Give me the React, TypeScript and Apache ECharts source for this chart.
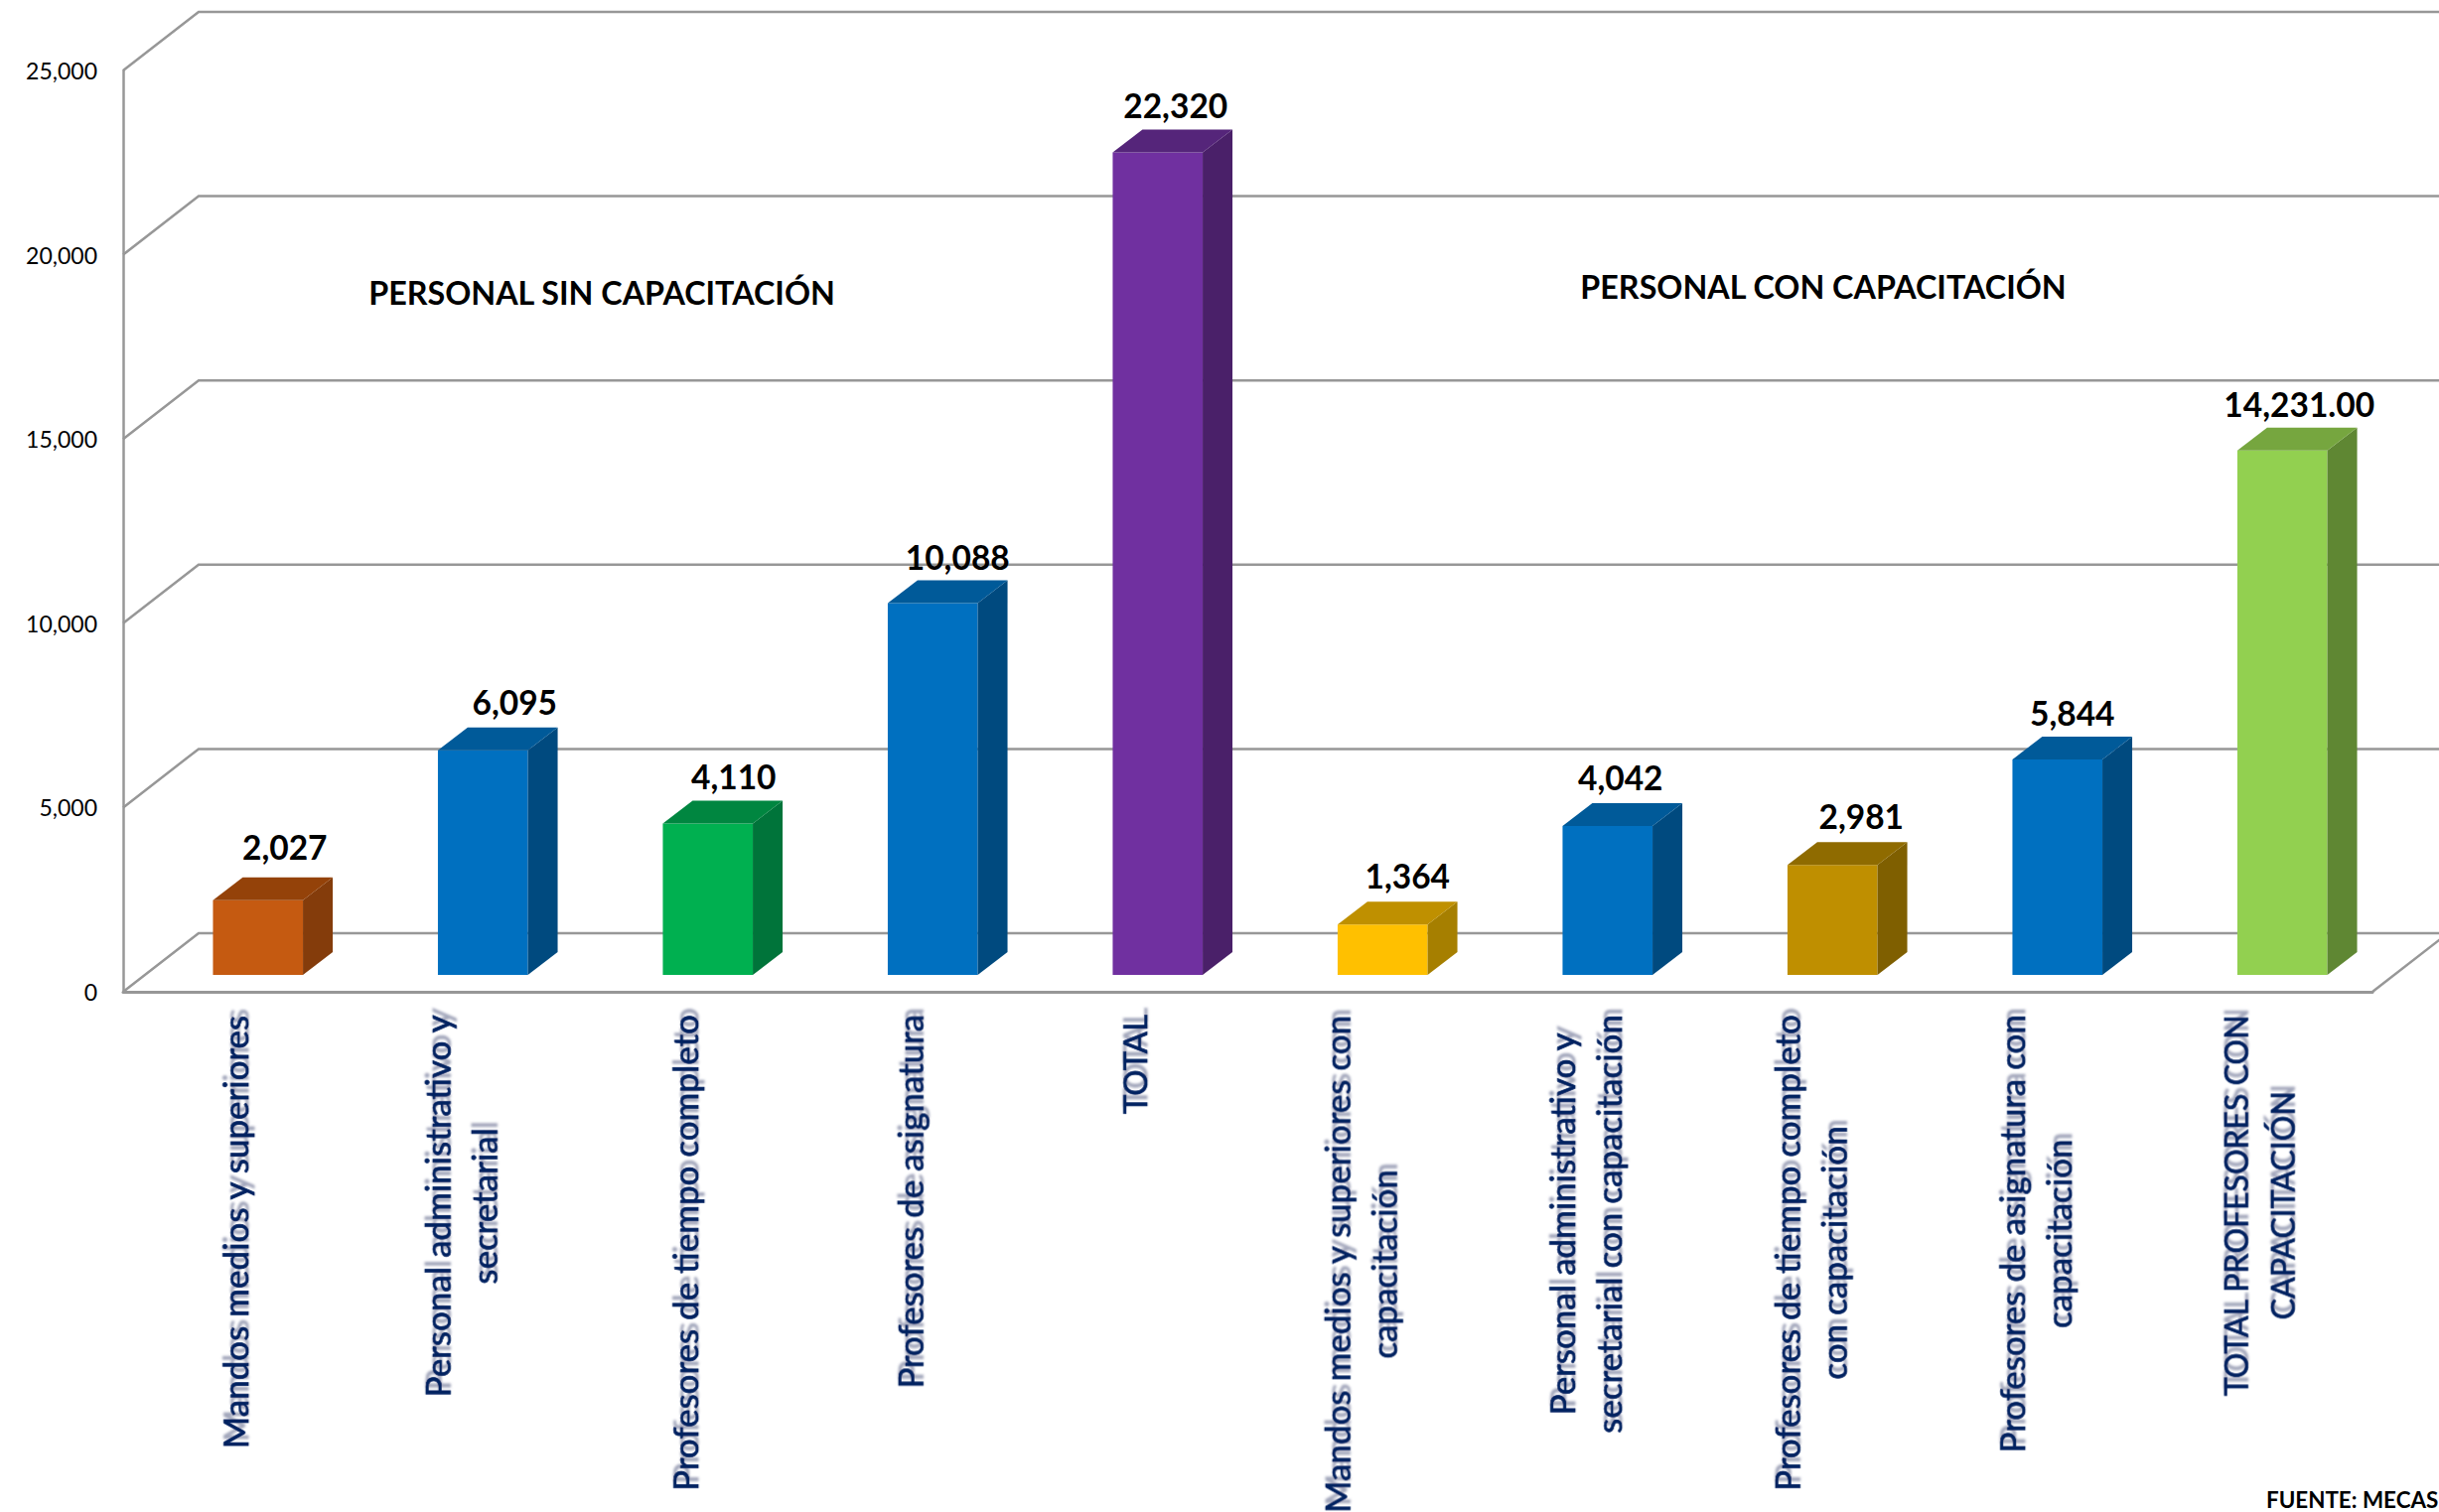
import React, { useEffect, useRef } from "react";
import * as echarts from "echarts";

const categories = [
  "Mandos medios y superiores",
  "Personal administrativo y\nsecretarial",
  "Profesores de tiempo completo",
  "Profesores de asignatura",
  "TOTAL",
  "Mandos medios y superiores con\ncapacitación",
  "Personal administrativo y\nsecretarial con capacitación",
  "Profesores de tiempo completo\ncon capacitación",
  "Profesores de asignatura con\ncapacitación",
  "TOTAL PROFESORES CON\nCAPACITACIÓN",
];
const values = [2027, 6095, 4110, 10088, 22320, 1364, 4042, 2981, 5844, 14231];
const valueLabels = ["2,027", "6,095", "4,110", "10,088", "22,320", "1,364", "4,042", "2,981", "5,844", "14,231.00"];
const yTicks = [0, 5000, 10000, 15000, 20000, 25000];

const frontColors = ["#C55A11", "#0070C0", "#00B050", "#0070C0", "#7030A0", "#FFC000", "#0070C0", "#BF8F00", "#0070C0", "#92D050"];
const sideColors = ["#843C0B", "#004A7F", "#00743A", "#004A7F", "#4A2069", "#A67F00", "#004A7F", "#7F5F00", "#004A7F", "#5F8733"];
const topColors = ["#944209", "#005A99", "#008640", "#005A99", "#55257A", "#BF9000", "#005A99", "#8F6B00", "#005A99", "#76A63F"];
const labelShiftX = [27, 32, 26, 25, 18, 25, 13, 29, 15, 17];
const labelGapY = [31, 26, 24, 24, 24, 26, 26, 26, 24, 24];
const catFontSizes = [35, 35, 35, 35, 33, 35, 35, 35, 35, 32];

const AXIS = "#979797";
const DEPTH_X = 76;
const DEPTH_Y = 59;
const BAR_DX = 22.5;
const BAR_DY = 17;
const SIDE_X = 30;
const SIDE_Y = 23;
const FONT = "Lato";

const measure = (text: string, font: string) => {
  const ctx = document.createElement("canvas").getContext("2d")!;
  ctx.font = font;
  return Math.max(...text.split("\n").map((l) => ctx.measureText(l).width));
};

export default function App() {
  const ref = useRef<HTMLDivElement>(null);
  useEffect(() => {
    const chart = echarts.init(ref.current!, undefined, { renderer: "svg" });
    chart.setOption({
      animation: false,
      backgroundColor: "#fff",
      grid: { left: 124, right: 67, top: 71, bottom: 524 },
      xAxis: {
        type: "category",
        data: categories,
        axisLine: { lineStyle: { color: AXIS, width: 3 } },
        axisTick: { show: false },
        axisLabel: { show: false },
      },
      yAxis: {
        type: "value",
        min: 0,
        max: 25000,
        interval: 5000,
        axisLine: { show: true, lineStyle: { color: AXIS, width: 2.5 } },
        axisTick: { show: false },
        splitLine: { show: false },
        axisLabel: { fontFamily: FONT, fontSize: 23, color: "#000", margin: 26 },
      },
      graphic: [
        { type: "text", x: 606, y: 294, style: { text: "PERSONAL SIN CAPACITACIÓN", font: `bold 32.3px ${FONT}`, fill: "#000", align: "center", verticalAlign: "middle" } },
        { type: "text", x: 1836, y: 288, style: { text: "PERSONAL CON CAPACITACIÓN", font: `bold 32.3px ${FONT}`, fill: "#000", align: "center", verticalAlign: "middle" } },
        { type: "text", x: 2282, y: 1510, style: { text: "FUENTE: MECAS", font: `bold 22.4px ${FONT}`, fill: "#000", align: "left", verticalAlign: "middle" } },
      ],
      series: [
        {
          type: "custom",
          name: "walls",
          silent: true,
          z: 1,
          clip: false,
          data: yTicks.map((t) => [0, t]),
          renderItem: (params: any, api: any) => {
            const y = api.coord([0, api.value(1)])[1];
            const cs = params.coordSys;
            const pts: number[][] = [[cs.x, y], [cs.x + DEPTH_X, y - DEPTH_Y], [2470, y - DEPTH_Y]];
            const children: any[] = [
              { type: "polyline", shape: { points: pts }, style: { stroke: AXIS, lineWidth: 2.5, fill: "none" } },
            ];
            if (api.value(1) === 0) {
              const r = cs.x + cs.width;
              children.push({ type: "line", shape: { x1: r, y1: y, x2: r + DEPTH_X, y2: y - DEPTH_Y }, style: { stroke: AXIS, lineWidth: 2.5 } });
            }
            return { type: "group", children };
          },
          encode: { x: 0, y: 1 },
        },
        {
          type: "custom",
          name: "bars",
          z: 3,
          clip: false,
          data: values.map((v, i) => [i, v]),
          encode: { x: 0, y: 1 },
          renderItem: (params: any, api: any) => {
            const i = api.value(0);
            const [cx, yTop] = api.coord([i, api.value(1)]);
            const y0 = api.coord([i, 0])[1];
            const w = api.size([1, 0])[0] * 0.4;
            const l = cx + BAR_DX - w / 2;
            const r = l + w;
            const t = yTop - BAR_DY;
            const b = y0 - BAR_DY;
            return {
              type: "group",
              children: [
                { type: "rect", shape: { x: l, y: t, width: w, height: b - t }, style: { fill: frontColors[i] } },
                { type: "polygon", shape: { points: [[r, t], [r + SIDE_X, t - SIDE_Y], [r + SIDE_X, b - SIDE_Y], [r, b]] }, style: { fill: sideColors[i] } },
                { type: "polygon", shape: { points: [[l, t], [l + SIDE_X, t - SIDE_Y], [r + SIDE_X, t - SIDE_Y], [r, t]] }, style: { fill: topColors[i] } },
                {
                  type: "text",
                  x: cx + BAR_DX + labelShiftX[i],
                  y: t - SIDE_Y - labelGapY[i],
                  style: { text: valueLabels[i], font: `bold 33.5px ${FONT}`, fill: "#000", align: "center", verticalAlign: "middle" },
                },
              ],
            };
          },
        },
        {
          type: "custom",
          name: "categoryLabels",
          silent: true,
          z: 4,
          clip: false,
          data: categories.map((_, i) => [i, 0]),
          encode: { x: 0, y: 1 },
          renderItem: (params: any, api: any) => {
            const i = api.value(0);
            const [cx, y0] = api.coord([i, 0]);
            const font = `${catFontSizes[i]}px ${FONT}`;
            const len = measure(categories[i], font);
            return {
              type: "text",
              x: cx - 1,
              y: y0 + 23 + len / 2,
              rotation: Math.PI / 2,
              style: {
                text: categories[i],
                font,
                lineHeight: 47,
                fill: "#002060",
                stroke: "#002060",
                lineWidth: 0.7,
                align: "center",
                verticalAlign: "middle",
                textShadowColor: "rgba(70,80,120,0.5)",
                textShadowBlur: 2,
                textShadowOffsetX: 7,
                textShadowOffsetY: 0,
              },
            };
          },
        },
      ],
    });
    return () => chart.dispose();
  }, []);
  return <div ref={ref} style={{ position: "fixed", left: 0, top: 0, width: 2456, height: 1523 }} />;
}
